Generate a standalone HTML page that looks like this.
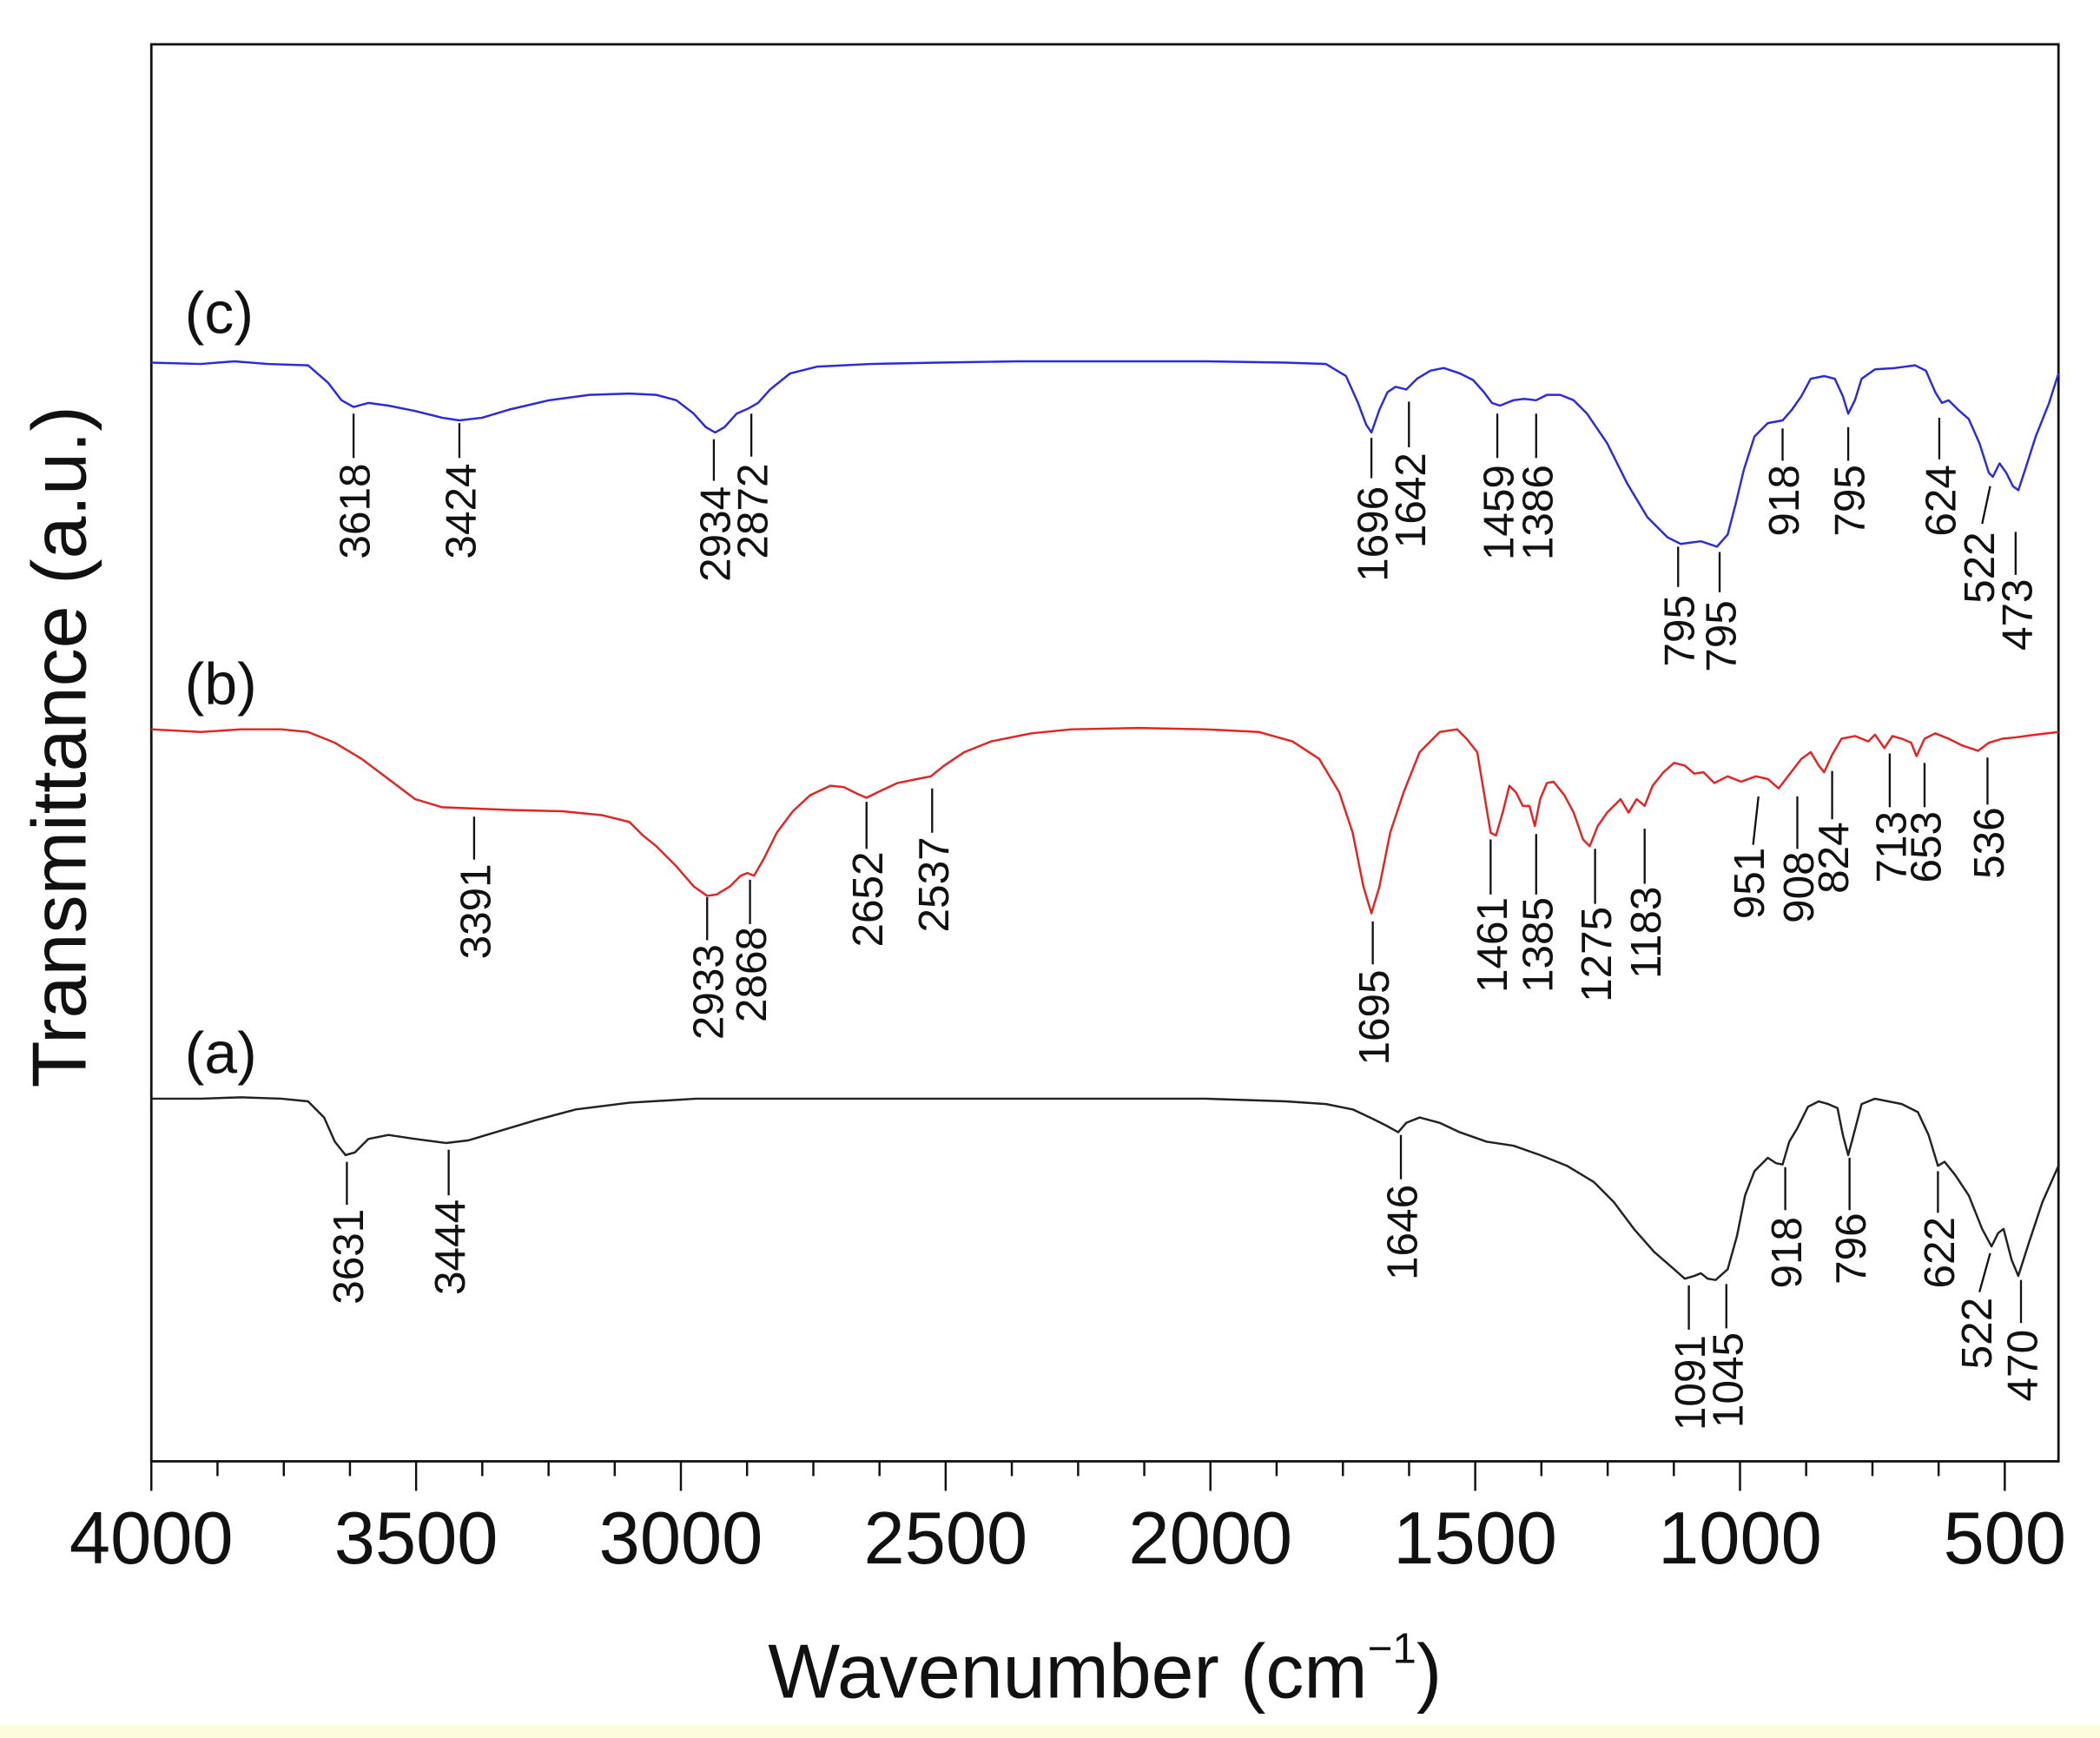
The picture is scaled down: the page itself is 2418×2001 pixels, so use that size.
<!DOCTYPE html>
<html><head><meta charset="utf-8"><style>
html,body{margin:0;padding:0;background:#fff;}
svg{display:block;}
text{font-family:"Liberation Sans",Arial,sans-serif;fill:#111;}
</style></head><body>
<svg width="2418" height="2001" viewBox="0 0 1568 1294" preserveAspectRatio="none" xmlns="http://www.w3.org/2000/svg">
<rect x="0" y="0" width="1568" height="1294" fill="#fff"/>
<rect x="0" y="1284" width="1568" height="10" fill="#fdfcdc"/>
<rect x="113" y="33" width="1424" height="1055" fill="none" stroke="#111" stroke-width="1.8"/>
<g stroke="#111" stroke-width="1.6">
<line x1="113" y1="1088" x2="113" y2="1110"/><line x1="162.4" y1="1088" x2="162.4" y2="1099"/>
<line x1="211.9" y1="1088" x2="211.9" y2="1099"/><line x1="261.3" y1="1088" x2="261.3" y2="1099"/>
<line x1="310.7" y1="1088" x2="310.7" y2="1110"/>
<line x1="360.1" y1="1088" x2="360.1" y2="1099"/><line x1="409.6" y1="1088" x2="409.6" y2="1099"/><line x1="459" y1="1088" x2="459" y2="1099"/>
<line x1="508.4" y1="1088" x2="508.4" y2="1110"/>
<line x1="557.8" y1="1088" x2="557.8" y2="1099"/><line x1="607.3" y1="1088" x2="607.3" y2="1099"/><line x1="656.7" y1="1088" x2="656.7" y2="1099"/>
<line x1="706.1" y1="1088" x2="706.1" y2="1110"/>
<line x1="755.5" y1="1088" x2="755.5" y2="1099"/><line x1="805" y1="1088" x2="805" y2="1099"/><line x1="854.4" y1="1088" x2="854.4" y2="1099"/>
<line x1="903.8" y1="1088" x2="903.8" y2="1110"/>
<line x1="953.2" y1="1088" x2="953.2" y2="1099"/><line x1="1002.7" y1="1088" x2="1002.7" y2="1099"/><line x1="1052.1" y1="1088" x2="1052.1" y2="1099"/>
<line x1="1101.5" y1="1088" x2="1101.5" y2="1110"/>
<line x1="1150.9" y1="1088" x2="1150.9" y2="1099"/><line x1="1200.4" y1="1088" x2="1200.4" y2="1099"/><line x1="1249.8" y1="1088" x2="1249.8" y2="1099"/>
<line x1="1299.2" y1="1088" x2="1299.2" y2="1110"/>
<line x1="1348.6" y1="1088" x2="1348.6" y2="1099"/><line x1="1398.1" y1="1088" x2="1398.1" y2="1099"/><line x1="1447.5" y1="1088" x2="1447.5" y2="1099"/>
<line x1="1496.9" y1="1088" x2="1496.9" y2="1110"/>
</g>
<g font-size="55" text-anchor="middle">
<text x="113" y="1164">4000</text><text x="310.7" y="1164">3500</text><text x="508.4" y="1164">3000</text>
<text x="706.1" y="1164">2500</text><text x="903.8" y="1164">2000</text><text x="1101.5" y="1164">1500</text>
<text x="1299.2" y="1164">1000</text><text x="1496.9" y="1164">500</text>
</g>
<text x="825" y="1264" font-size="57" text-anchor="middle">Wavenumber (cm<tspan font-size="32" dy="-26">−1</tspan><tspan dy="26">)</tspan></text>
<text transform="translate(64,556) rotate(-90)" font-size="57" text-anchor="middle">Transmittance (a.u.)</text>
<g font-size="44">
<text x="138" y="248">(c)</text><text x="138" y="524">(b)</text><text x="138" y="799">(a)</text>
</g>
<g fill="none" stroke-width="1.6" stroke-linejoin="round">
<polyline stroke="#2b2bd8" points="113,270 150,271 175,269 200,271 230,272 245,285 255,298 264,303 275,300 290,302 310,306 330,311 343,313 360,311 380,305 410,298 440,294 470,293 490,294 505,298 518,308 527,318 534,322 541,318 550,308 559,304 566,300 575,290 590,278 610,273 650,271 700,270 760,269 850,269 900,269 960,270 990,271 1005,280 1014,300 1020,316 1024,322 1030,305 1036,292 1042,288 1050,290 1058,282 1068,276 1078,274 1090,278 1100,283 1108,292 1114,300 1120,302 1130,298 1138,297 1147,298 1155,294 1165,294 1175,298 1185,308 1200,330 1215,360 1230,385 1245,400 1255,405 1262,404 1270,403 1282,407 1290,398 1296,375 1302,350 1310,325 1320,315 1331,313 1338,305 1345,295 1352,282 1362,280 1370,282 1376,295 1380,308 1385,298 1390,282 1400,275 1415,274 1430,272 1438,276 1445,292 1450,300 1455,298 1462,305 1470,312 1478,330 1485,352 1488,355 1493,345 1498,352 1503,362 1507,365 1512,350 1520,325 1530,300 1537,278"/>
<polyline stroke="#e02525" points="113,543 150,545 180,543 210,543 230,545 250,553 270,565 290,580 310,595 330,601 354,602 380,603 420,604 450,607 470,612 480,622 490,630 505,645 518,660 528,667 535,666 545,660 553,652 558,650 563,652 570,640 580,620 592,604 605,592 620,585 630,586 640,591 647,594 655,590 670,583 685,580 695,578 705,570 720,560 740,552 770,546 800,543 850,542 900,543 940,545 965,552 985,565 1000,590 1010,620 1018,660 1024,680 1030,660 1038,620 1048,590 1060,560 1075,545 1088,543 1095,550 1103,560 1108,590 1113,620 1117,622 1122,605 1127,585 1132,590 1137,600 1142,600 1146,615 1150,595 1155,583 1160,582 1168,592 1175,605 1182,625 1187,630 1193,615 1200,605 1210,595 1216,605 1222,595 1228,600 1234,585 1242,575 1250,568 1258,570 1265,576 1272,575 1280,583 1290,578 1300,582 1311,578 1320,580 1328,587 1335,578 1345,565 1352,560 1358,570 1362,575 1368,562 1375,550 1385,548 1395,552 1400,547 1407,557 1413,548 1420,550 1427,553 1431,563 1437,550 1445,546 1455,550 1465,555 1477,559 1485,553 1495,550 1505,549 1520,547 1537,545"/>
<polyline stroke="#222" points="113,818 150,818 180,817 210,818 230,820 242,832 250,850 258,860 265,858 275,848 290,845 310,848 333,851 350,849 370,843 400,834 430,826 470,821 520,818 600,818 700,818 800,818 900,818 960,820 990,822 1010,826 1025,833 1035,838 1044,843 1050,836 1060,832 1075,836 1090,843 1110,850 1130,853 1150,860 1170,868 1190,880 1205,895 1220,915 1235,932 1250,945 1258,952 1265,950 1270,948 1275,952 1281,953 1290,945 1297,920 1303,890 1310,872 1320,862 1326,866 1331,867 1336,850 1342,840 1350,824 1358,820 1365,822 1372,825 1376,845 1380,860 1384,845 1390,822 1400,818 1420,822 1432,828 1440,845 1447,868 1452,865 1460,875 1470,890 1480,915 1487,928 1492,918 1496,915 1502,938 1507,950 1515,925 1525,895 1537,868"/>
</g>
<g stroke="#111" stroke-width="1.5">
<line x1="264" y1="308" x2="264" y2="341"/><line x1="343" y1="315" x2="343" y2="341"/>
<line x1="533" y1="327" x2="533" y2="358"/><line x1="561" y1="308" x2="561" y2="340"/>
<line x1="1024" y1="326" x2="1024" y2="356"/><line x1="1052" y1="299" x2="1052" y2="333"/>
<line x1="1118" y1="308" x2="1118" y2="341"/><line x1="1147" y1="308" x2="1147" y2="341"/>
<line x1="1253" y1="407" x2="1253" y2="437"/><line x1="1284" y1="411" x2="1284" y2="441"/>
<line x1="1331" y1="319" x2="1331" y2="343"/><line x1="1380" y1="318" x2="1380" y2="343"/>
<line x1="1448" y1="311" x2="1448" y2="342"/><line x1="1486" y1="362" x2="1480" y2="390"/>
<line x1="1505" y1="396" x2="1505" y2="428"/>
<line x1="354" y1="608" x2="354" y2="640"/>
<line x1="528" y1="668" x2="528" y2="700"/><line x1="560" y1="655" x2="560" y2="688"/>
<line x1="647" y1="597" x2="647" y2="632"/><line x1="696" y1="587" x2="696" y2="620"/>
<line x1="1025" y1="686" x2="1025" y2="718"/>
<line x1="1113" y1="625" x2="1113" y2="666"/><line x1="1147" y1="621" x2="1147" y2="666"/>
<line x1="1191" y1="632" x2="1191" y2="673"/><line x1="1228" y1="617" x2="1228" y2="658"/>
<line x1="1313" y1="593" x2="1309" y2="629"/><line x1="1342" y1="593" x2="1342" y2="632"/>
<line x1="1368" y1="574" x2="1368" y2="610"/><line x1="1411" y1="561" x2="1411" y2="601"/>
<line x1="1437" y1="568" x2="1437" y2="601"/><line x1="1484" y1="564" x2="1484" y2="599"/>
<line x1="259" y1="865" x2="259" y2="897"/><line x1="335" y1="856" x2="335" y2="890"/>
<line x1="1046" y1="845" x2="1046" y2="878"/>
<line x1="1261" y1="957" x2="1261" y2="990"/><line x1="1289" y1="956" x2="1289" y2="989"/>
<line x1="1333" y1="869" x2="1333" y2="901"/><line x1="1381" y1="862" x2="1381" y2="901"/>
<line x1="1447" y1="872" x2="1447" y2="903"/><line x1="1486" y1="933" x2="1478" y2="962"/>
<line x1="1509" y1="953" x2="1509" y2="985"/>
</g>
<g font-size="32" text-anchor="end">
<text transform="translate(276,345) rotate(-90)">3618</text>
<text transform="translate(355,345) rotate(-90)">3424</text>
<text transform="translate(545,362) rotate(-90)">2934</text>
<text transform="translate(573,345) rotate(-90)">2872</text>
<text transform="translate(1036,362) rotate(-90)">1696</text>
<text transform="translate(1064,337) rotate(-90)">1642</text>
<text transform="translate(1130,346) rotate(-90)">1459</text>
<text transform="translate(1159,346) rotate(-90)">1386</text>
<text transform="translate(1265,443) rotate(-90)">795</text>
<text transform="translate(1296,447) rotate(-90)">795</text>
<text transform="translate(1343,346) rotate(-90)">918</text>
<text transform="translate(1392,346) rotate(-90)">795</text>
<text transform="translate(1460,346) rotate(-90)">624</text>
<text transform="translate(1489,396) rotate(-90)">522</text>
<text transform="translate(1517,431) rotate(-90)">473</text>
<text transform="translate(366,643) rotate(-90)">3391</text>
<text transform="translate(540,703) rotate(-90)">2933</text>
<text transform="translate(572,690) rotate(-90)">2868</text>
<text transform="translate(659,634) rotate(-90)">2652</text>
<text transform="translate(708,623) rotate(-90)">2537</text>
<text transform="translate(1037,722) rotate(-90)">1695</text>
<text transform="translate(1125,668) rotate(-90)">1461</text>
<text transform="translate(1159,668) rotate(-90)">1385</text>
<text transform="translate(1203,675) rotate(-90)">1275</text>
<text transform="translate(1240,660) rotate(-90)">1183</text>
<text transform="translate(1317,631) rotate(-90)">951</text>
<text transform="translate(1354,634) rotate(-90)">908</text>
<text transform="translate(1380,612) rotate(-90)">824</text>
<text transform="translate(1423,604) rotate(-90)">713</text>
<text transform="translate(1449,604) rotate(-90)">653</text>
<text transform="translate(1496,601) rotate(-90)">536</text>
<text transform="translate(271,900) rotate(-90)">3631</text>
<text transform="translate(347,893) rotate(-90)">3444</text>
<text transform="translate(1058,882) rotate(-90)">1646</text>
<text transform="translate(1273,994) rotate(-90)">1091</text>
<text transform="translate(1301,992) rotate(-90)">1045</text>
<text transform="translate(1345,906) rotate(-90)">918</text>
<text transform="translate(1393,903) rotate(-90)">796</text>
<text transform="translate(1459,906) rotate(-90)">622</text>
<text transform="translate(1487,966) rotate(-90)">522</text>
<text transform="translate(1521,990) rotate(-90)">470</text>
</g>
</svg>
</body></html>
